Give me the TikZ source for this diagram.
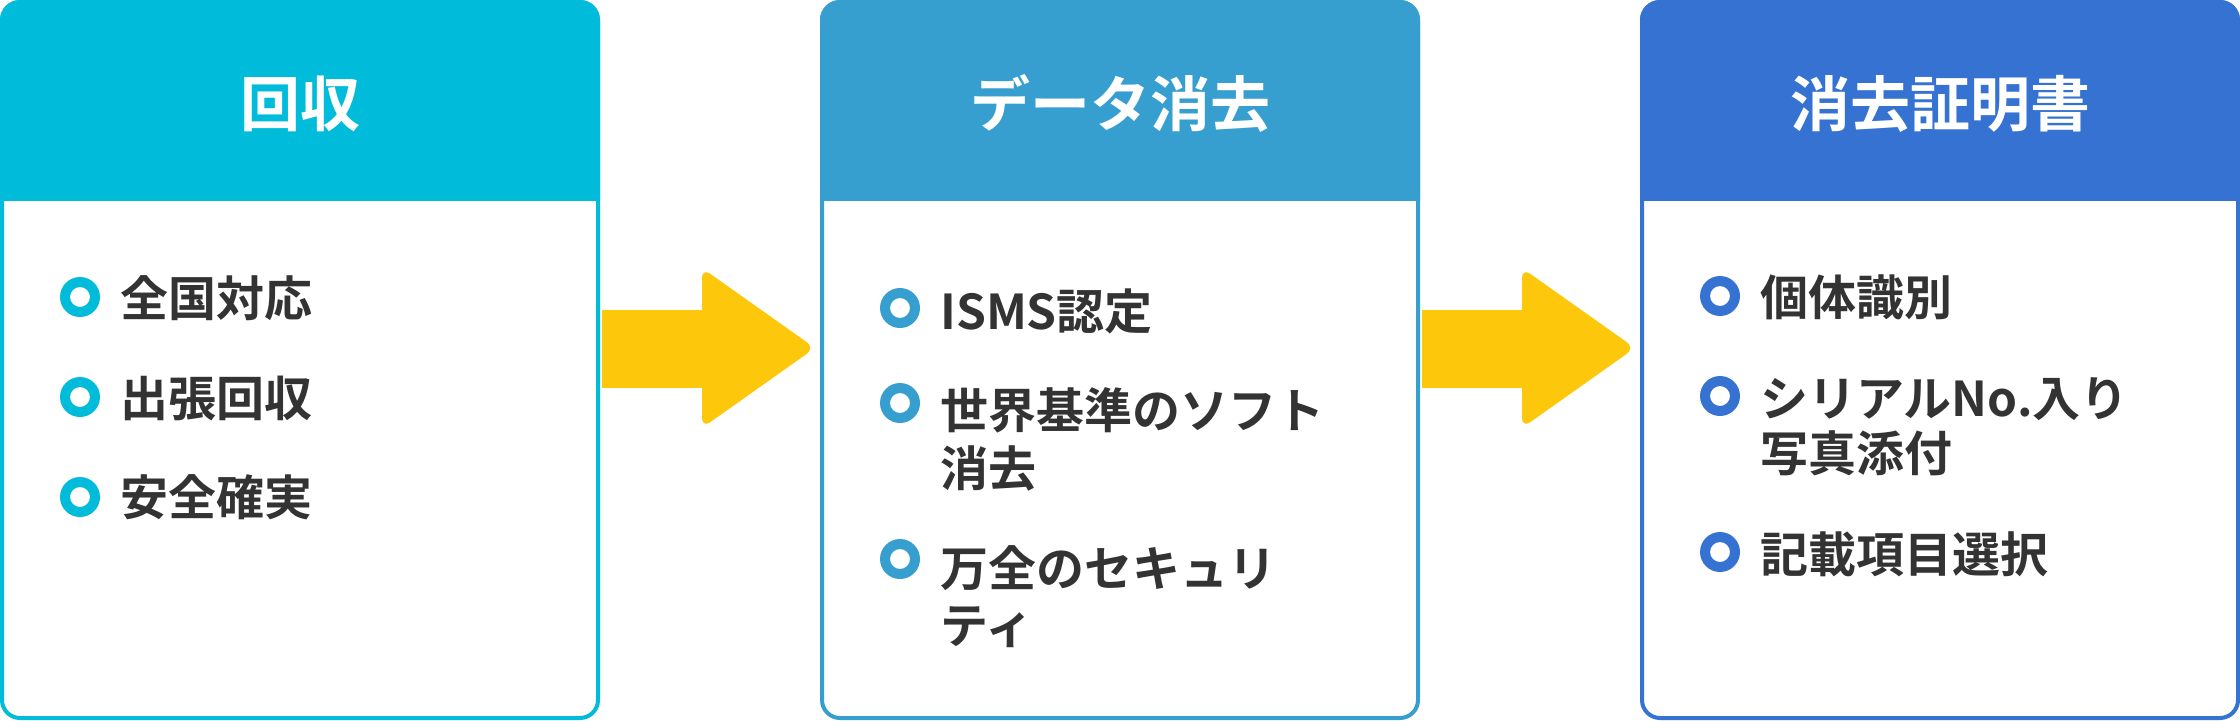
\documentclass[tikz,border=0pt]{standalone}
\usepackage{fontspec}
\newfontfamily\jp{Noto Sans CJK JP}[BoldFont={Noto Sans CJK JP Bold}]
\usetikzlibrary{calc}
\definecolor{cA}{HTML}{00BCDA}
\definecolor{cB}{HTML}{369FCF}
\definecolor{cC}{HTML}{3572D1}
\definecolor{arrowc}{HTML}{FDC70C}
\definecolor{txt}{HTML}{333333}
\begin{document}
\begin{tikzpicture}[x=1pt,y=-1pt,
  panel/.style={draw=#1, line width=4pt, fill=white, rounded corners=18pt,
    minimum width=596pt, minimum height=716pt, inner sep=0pt},
  title/.style={anchor=base, inner sep=0pt, text=white,
    font=\jp\bfseries\fontsize{60}{60}\selectfont},
  item/.style={anchor=base west, inner sep=0pt, text=txt,
    font=\jp\bfseries\fontsize{48}{56}\selectfont},
  ring/.style={fill=#1, even odd rule},
  bigarrow/.style={fill=arrowc, rounded corners=10pt}
]
\useasboundingbox (0,0) rectangle (2240,720);

% panels
\node[panel=cA] (b1) at (300,360) {};
\node[panel=cB] (b2) at (1120,360) {};
\node[panel=cC] (b3) at (1940,360) {};

% headers
\begin{scope}
  \clip (0,0) rectangle (2240,200);
  \foreach \b/\c in {b1/cA,b2/cB,b3/cC}{
    \fill[\c, rounded corners=20pt] (\b.north west) rectangle (\b.south east);
  }
\end{scope}

% titles
\node[title] (t1) at (300,126) {回収};
\node[title] (t2) at (1120,126) {データ消去};
\node[title] (t3) at (1940,126) {消去証明書};

% arrows
\foreach \s/\a/\b in {0/b1/b2, 820/b2/b3}{
  \begin{scope}[xshift=\s pt]
    \fill[arrowc] (602,310) rectangle (706,388);
    \fill[bigarrow] (702,348) -- (702,268) -- (815,348) -- (702,428) -- cycle;
  \end{scope}
}

% box 1 items
\fill[ring=cA] (80,297) circle[radius=20] (80,297) circle[radius=10];
\node[item] (i11) at (120,316) {全国対応};
\fill[ring=cA] (80,397) circle[radius=20] (80,397) circle[radius=10];
\node[item] (i12) at (120,416) {出張回収};
\fill[ring=cA] (80,497) circle[radius=20] (80,497) circle[radius=10];
\node[item] (i13) at (120,515) {安全確実};

% box 2 items
\fill[ring=cB] (900,308) circle[radius=20] (900,308) circle[radius=10];
\node[item] (i21) at (940,329) {ISMS認定};
\fill[ring=cB] (900,403) circle[radius=20] (900,403) circle[radius=10];
\node[item] (i22a) at (940,428) {世界基準のソフト};
\node[item] (i22b) at (940,486) {消去};
\fill[ring=cB] (900,559) circle[radius=20] (900,559) circle[radius=10];
\node[item] (i23a) at (940,586) {万全のセキュリ};
\node[item] (i23b) at (940,643) {ティ};

% box 3 items
\fill[ring=cC] (1720,296) circle[radius=20] (1720,296) circle[radius=10];
\node[item] (i31) at (1760,315) {個体識別};
\fill[ring=cC] (1720,396) circle[radius=20] (1720,396) circle[radius=10];
\node[item] (i32a) at (1760,416) {シリアルNo.入り};
\node[item] (i32b) at (1760,471) {写真添付};
\fill[ring=cC] (1720,552) circle[radius=20] (1720,552) circle[radius=10];
\node[item] (i33) at (1760,572) {記載項目選択};
\end{tikzpicture}
\end{document}
